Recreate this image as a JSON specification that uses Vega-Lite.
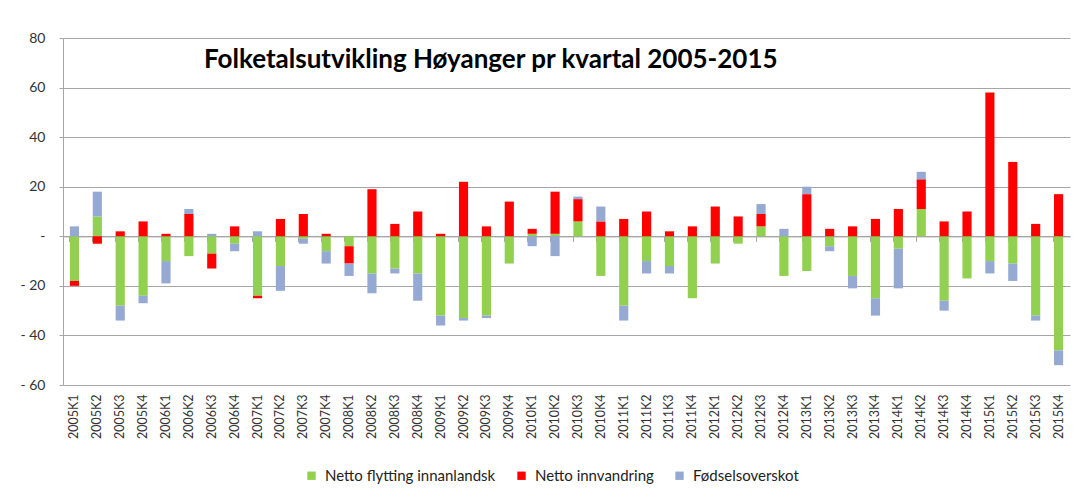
{
  "$schema": "https://vega.github.io/schema/vega-lite/v6.json",
  "autosize": {"type": "none"},
  "width": 1007,
  "height": 347,
  "padding": {"left": 63, "top": 38, "right": 6, "bottom": 112},
  "background": "#ffffff",
  "config": {
    "view": {"stroke": null},
    "font": "Lato",
    "axis": {"labelFont": "Lato", "labelColor": "#333333", "gridColor": "#a6a6a6", "domainColor": "#a6a6a6", "tickColor": "#a6a6a6"}
  },
  "title": {
    "text": "Folketalsutvikling Høyanger pr kvartal 2005-2015",
    "anchor": "start",
    "dx": 184,
    "dy": 46,
    "font": "Lato",
    "fontSize": 26,
    "fontWeight": "bold",
    "color": "#000000"
  },
  "data": {
    "values": [
      {"k": "2005K1", "Netto flytting innanlandsk": -18, "Netto innvandring": -2, "Fødselsoverskot": 4},
      {"k": "2005K2", "Netto flytting innanlandsk": 8, "Netto innvandring": -3, "Fødselsoverskot": 10},
      {"k": "2005K3", "Netto flytting innanlandsk": -28, "Netto innvandring": 2, "Fødselsoverskot": -6},
      {"k": "2005K4", "Netto flytting innanlandsk": -24, "Netto innvandring": 6, "Fødselsoverskot": -3},
      {"k": "2006K1", "Netto flytting innanlandsk": -10, "Netto innvandring": 1, "Fødselsoverskot": -9},
      {"k": "2006K2", "Netto flytting innanlandsk": -8, "Netto innvandring": 9, "Fødselsoverskot": 2},
      {"k": "2006K3", "Netto flytting innanlandsk": -7, "Netto innvandring": -6, "Fødselsoverskot": 1},
      {"k": "2006K4", "Netto flytting innanlandsk": -3, "Netto innvandring": 4, "Fødselsoverskot": -3},
      {"k": "2007K1", "Netto flytting innanlandsk": -24, "Netto innvandring": -1, "Fødselsoverskot": 2},
      {"k": "2007K2", "Netto flytting innanlandsk": -12, "Netto innvandring": 7, "Fødselsoverskot": -10},
      {"k": "2007K3", "Netto flytting innanlandsk": -1, "Netto innvandring": 9, "Fødselsoverskot": -2},
      {"k": "2007K4", "Netto flytting innanlandsk": -6, "Netto innvandring": 1, "Fødselsoverskot": -5},
      {"k": "2008K1", "Netto flytting innanlandsk": -4, "Netto innvandring": -7, "Fødselsoverskot": -5},
      {"k": "2008K2", "Netto flytting innanlandsk": -15, "Netto innvandring": 19, "Fødselsoverskot": -8},
      {"k": "2008K3", "Netto flytting innanlandsk": -13, "Netto innvandring": 5, "Fødselsoverskot": -2},
      {"k": "2008K4", "Netto flytting innanlandsk": -15, "Netto innvandring": 10, "Fødselsoverskot": -11},
      {"k": "2009K1", "Netto flytting innanlandsk": -32, "Netto innvandring": 1, "Fødselsoverskot": -4},
      {"k": "2009K2", "Netto flytting innanlandsk": -33, "Netto innvandring": 22, "Fødselsoverskot": -1},
      {"k": "2009K3", "Netto flytting innanlandsk": -32, "Netto innvandring": 4, "Fødselsoverskot": -1},
      {"k": "2009K4", "Netto flytting innanlandsk": -11, "Netto innvandring": 14, "Fødselsoverskot": 0},
      {"k": "2010K1", "Netto flytting innanlandsk": 1, "Netto innvandring": 2, "Fødselsoverskot": -4},
      {"k": "2010K2", "Netto flytting innanlandsk": 1, "Netto innvandring": 17, "Fødselsoverskot": -8},
      {"k": "2010K3", "Netto flytting innanlandsk": 6, "Netto innvandring": 9, "Fødselsoverskot": 1},
      {"k": "2010K4", "Netto flytting innanlandsk": -16, "Netto innvandring": 6, "Fødselsoverskot": 6},
      {"k": "2011K1", "Netto flytting innanlandsk": -28, "Netto innvandring": 7, "Fødselsoverskot": -6},
      {"k": "2011K2", "Netto flytting innanlandsk": -10, "Netto innvandring": 10, "Fødselsoverskot": -5},
      {"k": "2011K3", "Netto flytting innanlandsk": -12, "Netto innvandring": 2, "Fødselsoverskot": -3},
      {"k": "2011K4", "Netto flytting innanlandsk": -25, "Netto innvandring": 4, "Fødselsoverskot": 0},
      {"k": "2012K1", "Netto flytting innanlandsk": -11, "Netto innvandring": 12, "Fødselsoverskot": 0},
      {"k": "2012K2", "Netto flytting innanlandsk": -3, "Netto innvandring": 8, "Fødselsoverskot": 0},
      {"k": "2012K3", "Netto flytting innanlandsk": 4, "Netto innvandring": 5, "Fødselsoverskot": 4},
      {"k": "2012K4", "Netto flytting innanlandsk": -16, "Netto innvandring": 0, "Fødselsoverskot": 3},
      {"k": "2013K1", "Netto flytting innanlandsk": -14, "Netto innvandring": 17, "Fødselsoverskot": 3},
      {"k": "2013K2", "Netto flytting innanlandsk": -4, "Netto innvandring": 3, "Fødselsoverskot": -2},
      {"k": "2013K3", "Netto flytting innanlandsk": -16, "Netto innvandring": 4, "Fødselsoverskot": -5},
      {"k": "2013K4", "Netto flytting innanlandsk": -25, "Netto innvandring": 7, "Fødselsoverskot": -7},
      {"k": "2014K1", "Netto flytting innanlandsk": -5, "Netto innvandring": 11, "Fødselsoverskot": -16},
      {"k": "2014K2", "Netto flytting innanlandsk": 11, "Netto innvandring": 12, "Fødselsoverskot": 3},
      {"k": "2014K3", "Netto flytting innanlandsk": -26, "Netto innvandring": 6, "Fødselsoverskot": -4},
      {"k": "2014K4", "Netto flytting innanlandsk": -17, "Netto innvandring": 10, "Fødselsoverskot": 0},
      {"k": "2015K1", "Netto flytting innanlandsk": -10, "Netto innvandring": 58, "Fødselsoverskot": -5},
      {"k": "2015K2", "Netto flytting innanlandsk": -11, "Netto innvandring": 30, "Fødselsoverskot": -7},
      {"k": "2015K3", "Netto flytting innanlandsk": -32, "Netto innvandring": 5, "Fødselsoverskot": -2},
      {"k": "2015K4", "Netto flytting innanlandsk": -46, "Netto innvandring": 17, "Fødselsoverskot": -6}
    ]
  },
  "transform": [
    {"fold": ["Netto flytting innanlandsk", "Netto innvandring", "Fødselsoverskot"], "as": ["serie", "verdi"]},
    {"calculate": "indexof(['Netto flytting innanlandsk', 'Netto innvandring', 'Fødselsoverskot'], datum.serie)", "as": "rekkefolgje"}
  ],
  "resolve": {"axis": {"x": "independent"}},
  "layer": [
    {
      "mark": {"type": "bar", "opacity": 0},
      "encoding": {
        "x": {
          "field": "k", "type": "nominal",
          "scale": {"paddingInner": 0.6, "paddingOuter": 0.3},
          "axis": {"orient": "top", "offset": -198.4, "title": null, "labels": false, "domain": true, "domainColor": "#a6a6a6", "ticks": true, "tickSize": -5, "bandPosition": 0, "grid": false}
        },
        "y": {"field": "verdi", "type": "quantitative", "stack": "zero"}
      }
    },
    {
      "mark": {"type": "bar"},
      "encoding": {
        "x": {
          "field": "k", "type": "nominal",
          "axis": {"orient": "bottom", "title": null, "labelAngle": -90, "labelFontSize": 12.5, "labelPadding": 9, "ticks": false, "tickSize": 0, "domain": false, "grid": false}
        },
        "y": {
          "field": "verdi", "type": "quantitative", "stack": "zero",
          "scale": {"domain": [-60, 80], "nice": false, "zero": true},
          "axis": {
            "title": null,
            "values": [-60, -40, -20, 0, 20, 40, 60, 80],
            "grid": true,
            "gridWidth": 1,
            "tickSize": 4,
            "labelPadding": 14,
            "labelFontSize": 14,
            "labelExpr": "datum.value == 0 ? '-\u00a0\u00a0\u00a0' : (datum.value < 0 ? '- ' + (-datum.value) : datum.label)"
          }
        },
        "order": {"field": "rekkefolgje", "type": "quantitative"},
        "color": {
          "field": "serie", "type": "nominal",
          "scale": {"domain": ["Netto flytting innanlandsk", "Netto innvandring", "Fødselsoverskot"], "range": ["#92d050", "#ff0000", "#95a9d3"]},
          "legend": {
            "title": null,
            "orient": "none",
            "direction": "horizontal",
            "legendX": 241,
            "legendY": 430,
            "symbolType": "square",
            "symbolSize": 70,
            "symbolStrokeWidth": 0,
            "labelFontSize": 15,
            "labelFont": "Lato",
            "labelColor": "#222222",
            "labelLimit": 400,
            "labelOffset": 6,
            "columnPadding": 18
          }
        }
      }
    }
  ]
}
